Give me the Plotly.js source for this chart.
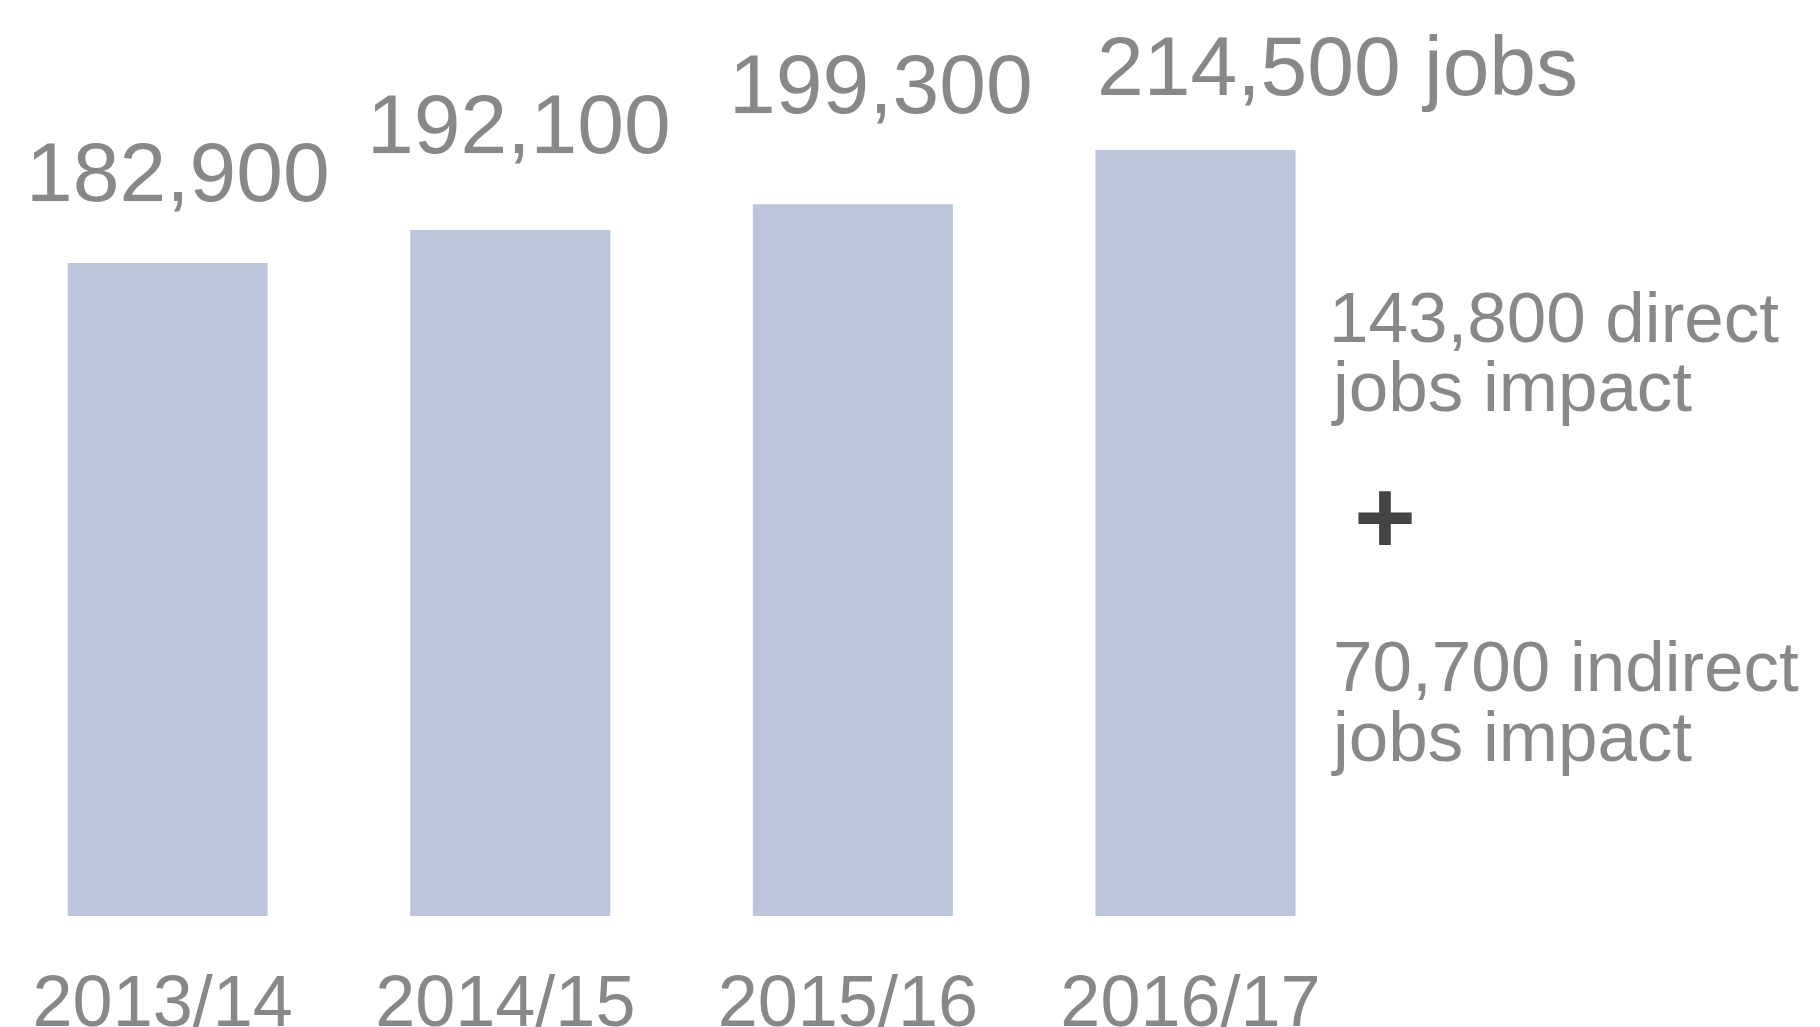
<!DOCTYPE html>
<html>
<head>
<meta charset="utf-8">
<script src="https://cdn.plot.ly/plotly-3.0.1.min.js"></script>
<style>
  html, body { margin: 0; padding: 0; background: #ffffff; }
  #chart { width: 1820px; height: 1027px; }
</style>
</head>
<body>
<div id="chart"></div>
<script>
// ---- Data ----
const years = ['2013/14', '2014/15', '2015/16', '2016/17'];
const jobs = [182900, 192100, 199300, 214500];
const valueLabels = ['182,900', '192,100', '199,300', '214,500 jobs'];
const directJobs = 143800;
const indirectJobs = 70700;

// ---- Style ----
const FONT = '"Liberation Sans", Arial, Helvetica, sans-serif';
const GREY = '#888888';
const BAR = '#bcc5da';
const labelShiftX = [10, 8.5, 28, 142.5];
const labelShiftY = [42, 57, 71, 35];

const fmt = v => v.toLocaleString('en-US');

const trace = {
  type: 'bar',
  x: years,
  y: jobs,
  marker: { color: BAR, line: { width: 0 } },
  hoverinfo: 'skip'
};

const annotations = years.map((yr, i) => ({
  x: yr, y: jobs[i], xref: 'x', yref: 'y',
  text: valueLabels[i],
  showarrow: false,
  xanchor: 'center', yanchor: 'bottom',
  xshift: labelShiftX[i], yshift: labelShiftY[i],
  font: { family: FONT, size: 84, color: GREY }
}));

const side = [
  { text: fmt(directJobs) + ' direct', x: 1327 / 1820, y: 0.6497, size: 71, color: GREY, anchor: 'bottom' },
  { text: 'jobs impact', x: 1329 / 1820, y: 0.5699, size: 71, color: GREY, anchor: 'bottom' },
  { text: '<b>+</b>', x: 1384.5 / 1820, y: 0.4673, size: 106, color: '#444444', anchor: 'middle', xanchor: 'center' },
  { text: fmt(indirectJobs) + ' indirect', x: 1331 / 1820, y: 0.2432, size: 71, color: GREY, anchor: 'bottom' },
  { text: 'jobs impact', x: 1329 / 1820, y: 0.1615, size: 71, color: GREY, anchor: 'bottom' }
];
side.forEach(s => annotations.push({
  x: s.x, y: s.y, xref: 'paper', yref: 'paper',
  text: s.text, showarrow: false,
  xanchor: s.xanchor || 'left', yanchor: s.anchor,
  font: { family: FONT, size: s.size, color: s.color }
}));

const layout = {
  width: 1820,
  height: 1027,
  margin: { l: 0, r: 0, t: 59, b: 111, pad: 0 },
  paper_bgcolor: '#ffffff',
  plot_bgcolor: '#ffffff',
  showlegend: false,
  bargap: 0.416,
  font: { family: FONT, color: GREY },
  xaxis: {
    type: 'category',
    range: [-0.4895, 4.823],
    showgrid: false, zeroline: false, showline: false,
    ticks: 'outside', ticklen: 23, tickcolor: 'rgba(0,0,0,0)',
    ticklabelshift: -5,
    tickfont: { family: FONT, size: 72, color: GREY },
    fixedrange: true
  },
  yaxis: {
    range: [0, 240000],
    visible: false,
    showgrid: false, zeroline: false,
    fixedrange: true
  },
  annotations: annotations
};

Plotly.newPlot('chart', [trace], layout, { displayModeBar: false, staticPlot: true });
</script>
</body>
</html>
